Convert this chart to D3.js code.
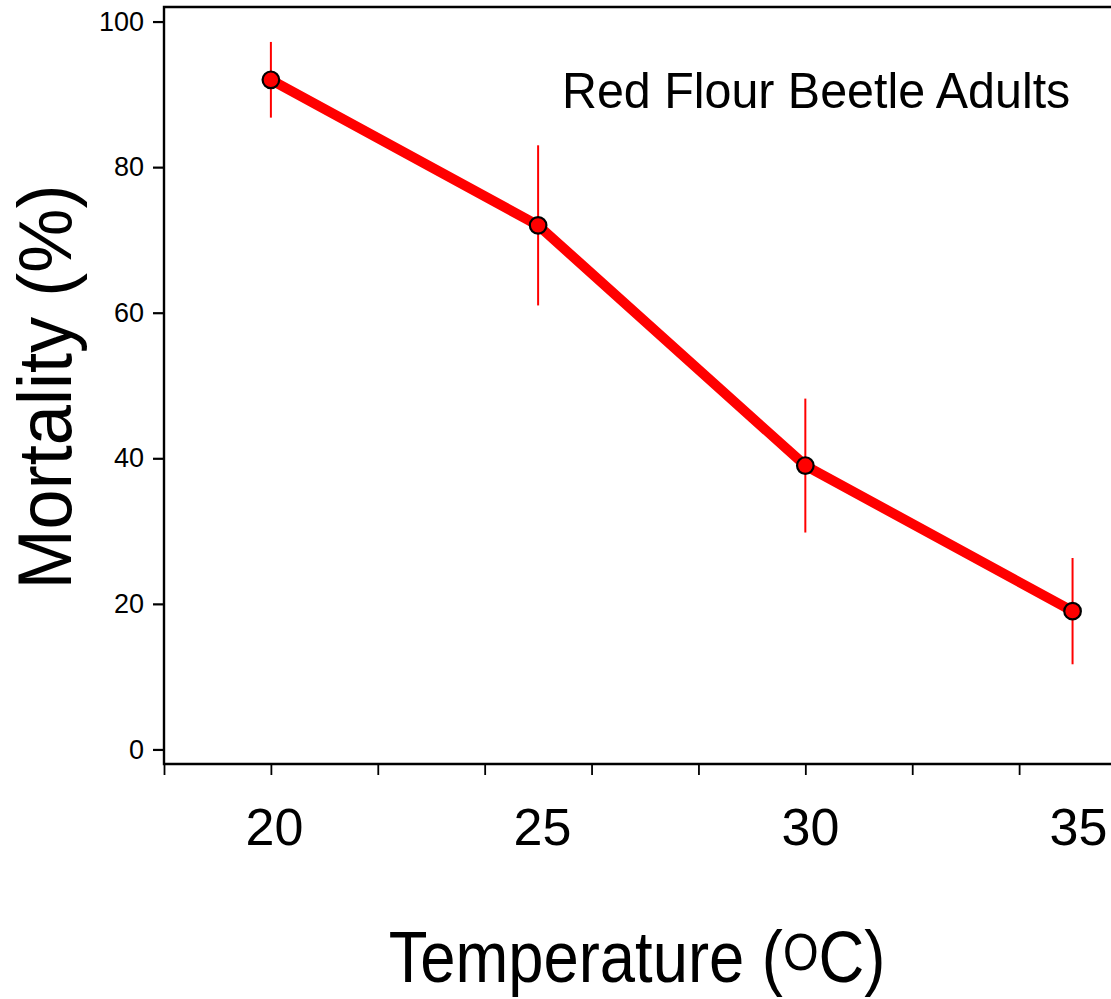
<!DOCTYPE HTML>
<html lang="en">
<head>
    <meta http-equiv="Content-Type" content="text/html; charset=utf-8">
    <title>Red Flour Beetle Adults mortality</title>
    <script src="https://cdn.jsdelivr.net/npm/d3@7"></script>
    <style type="text/css">
        html,body{margin:0;padding:0;background:#fff}
        svg{display:block;font-family:"Liberation Sans",Arial,sans-serif}
    </style>
</head>
<body>
<div id="svgWrap"></div>
<script type="text/javascript">
// data
var temps=[20,25,30,35];          // temperature (oC)
var mortality=[92,72,39,19];      // mean mortality (%)
var errs=[5.2,11,9.2,7.3];        // error bar half length (%)
var yTicks=[0,20,40,60,80,100];
var xTicks=[18,20,22,24,26,28,30,32,34];
var xLabels=[20,25,30,35];

var W=1111,H=999;
var svg,xScale,yScale,labelScale;

function defineScales() {
    xScale=d3.scaleLinear().domain([18,36]).range([164,1126]);
    yScale=d3.scaleLinear().domain([-2,102]).range([764,7]);
    // tick labels in the original sit a bit off the tick marks
    labelScale=d3.scaleLinear().domain([20,35]).range([274,1078]);
}

function setupFigure() {
    svg=d3.select("#svgWrap").append("svg")
        .attr("width",W)
        .attr("height",H);
}

function addAxes() {
    var yAxis=d3.axisLeft(yScale).tickValues(yTicks).tickSize(11).tickPadding(9);
    var gy=svg.append("g")
        .attr("transform","translate(164,0)")
        .call(yAxis);
    gy.select(".domain").remove();
    gy.selectAll(".tick line").attr("stroke","#000").attr("stroke-width",2.2);
    gy.selectAll(".tick text").attr("font-size","27px").attr("fill","#000");

    var xAxis=d3.axisBottom(xScale).tickValues(xTicks).tickSize(11).tickFormat("");
    var gx=svg.append("g")
        .attr("transform","translate(0,764)")
        .call(xAxis);
    gx.select(".domain").remove();
    gx.selectAll(".tick line").attr("stroke","#000").attr("stroke-width",1.8);

    var lAxis=d3.axisBottom(labelScale).tickValues(xLabels).tickSize(0).tickPadding(0);
    var gl=svg.append("g")
        .attr("transform","translate(0,808)")
        .call(lAxis);
    gl.select(".domain").remove();
    gl.selectAll(".tick text")
        .attr("font-size","52px")
        .attr("fill","#000")
        .attr("dy","0.72em");

    // frame: left, bottom and top lines
    svg.append("path")
        .attr("d","M"+W+","+yScale(102)+"H"+xScale(18)+"V"+yScale(-2)+"H"+W)
        .attr("fill","none")
        .attr("stroke","#000")
        .attr("stroke-width",2.4);
}

function addLabels() {
    svg.append("text")
        .attr("transform","translate(71,387) rotate(-90) scale(0.95,1)")
        .attr("text-anchor","middle")
        .attr("font-size","76px")
        .text("Mortality (%)");

    var t=svg.append("text")
        .attr("transform","translate(637,982) scale(0.88,1)")
        .attr("text-anchor","middle")
        .attr("font-size","72px");
    t.append("tspan").text("Temperature (");
    t.append("tspan").attr("font-size","52px").attr("dy","-12").text("O");
    t.append("tspan").attr("dy","12").text("C)");

    svg.append("text")
        .attr("transform","translate(562,108) scale(0.968,1)")
        .attr("font-size","50px")
        .text("Red Flour Beetle Adults");
}

function drawSeries() {
    var pts=temps.map(function(t,i){return {x:t,y:mortality[i],e:errs[i]}});
    svg.selectAll(".errbar").data(pts).enter().append("line")
        .attr("class","errbar")
        .attr("x1",function(d){return xScale(d.x)})
        .attr("x2",function(d){return xScale(d.x)})
        .attr("y1",function(d){return yScale(d.y+d.e)})
        .attr("y2",function(d){return yScale(d.y-d.e)})
        .attr("stroke","#f00")
        .attr("stroke-width",2);
    var line=d3.line()
        .x(function(d){return xScale(d.x)})
        .y(function(d){return yScale(d.y)});
    svg.append("path")
        .datum(pts)
        .attr("d",line)
        .attr("fill","none")
        .attr("stroke","#f00")
        .attr("stroke-width",10)
        .attr("stroke-linejoin","round");
    svg.selectAll(".marker").data(pts).enter().append("circle")
        .attr("class","marker")
        .attr("cx",function(d){return xScale(d.x)})
        .attr("cy",function(d){return yScale(d.y)})
        .attr("r",8.3)
        .attr("fill","#f00")
        .attr("stroke","#000")
        .attr("stroke-width",2.2);
}

defineScales();
setupFigure();
drawSeries();
addAxes();
addLabels();
</script>
</body>
</html>
